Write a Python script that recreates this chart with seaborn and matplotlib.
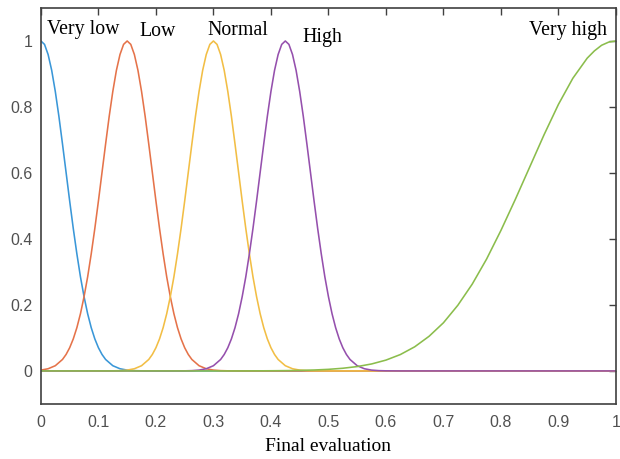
import numpy as np
import pandas as pd
import matplotlib
matplotlib.use('Agg')
import matplotlib.pyplot as plt
import seaborn as sns

# Membership values (finer steps near the peaks)
very_low_x = [0.0, 0.00625, 0.0125, 0.01875, 0.025, 0.03125, 0.0375, 0.04375,
              0.05, 0.05625, 0.0625, 0.06875, 0.075, 0.08125, 0.0875, 0.09375,
              0.1, 0.10625, 0.1125, 0.125, 0.1375, 0.15, 0.1625, 0.175, 0.2,
              1.0]
very_low_y = [1.0, 0.9897, 0.959, 0.9109, 0.847, 0.7717, 0.688, 0.6017, 0.515,
              0.4318, 0.355, 0.2851, 0.225, 0.1734, 0.131, 0.097, 0.0703,
              0.0499, 0.0347, 0.0158, 0.0066, 0.0025, 0.0009, 0.0003, 0.0, 0.0]

low_x = [0.0, 0.0125, 0.025, 0.0375, 0.04375, 0.05, 0.05625, 0.0625, 0.06875,
         0.075, 0.08125, 0.0875, 0.09375, 0.1, 0.10625, 0.1125, 0.11875, 0.125,
         0.13125, 0.1375, 0.14375, 0.15, 0.15625, 0.1625, 0.16875, 0.175,
         0.18125, 0.1875, 0.19375, 0.2, 0.20625, 0.2125, 0.21875, 0.225,
         0.23125, 0.2375, 0.24375, 0.25, 0.25625, 0.2625, 0.275, 0.2875, 0.3,
         0.3125, 0.325, 0.35, 1.0]
low_y = [0.0025, 0.0066, 0.0158, 0.0347, 0.0499, 0.0703, 0.097, 0.131, 0.1734,
         0.225, 0.2851, 0.355, 0.4318, 0.515, 0.6017, 0.688, 0.7717, 0.847,
         0.9109, 0.959, 0.9897, 1.0, 0.9897, 0.959, 0.9109, 0.847, 0.7717,
         0.688, 0.6017, 0.515, 0.4318, 0.355, 0.2851, 0.225, 0.1734, 0.131,
         0.097, 0.0703, 0.0499, 0.0347, 0.0158, 0.0066, 0.0025, 0.0009, 0.0003,
         0.0, 0.0]

normal_x = [0.0, 0.1, 0.125, 0.1375, 0.15, 0.1625, 0.175, 0.1875, 0.19375, 0.2,
            0.20625, 0.2125, 0.21875, 0.225, 0.23125, 0.2375, 0.24375, 0.25,
            0.25625, 0.2625, 0.26875, 0.275, 0.28125, 0.2875, 0.29375, 0.3,
            0.30625, 0.3125, 0.31875, 0.325, 0.33125, 0.3375, 0.34375, 0.35,
            0.35625, 0.3625, 0.36875, 0.375, 0.38125, 0.3875, 0.39375, 0.4,
            0.40625, 0.4125, 0.425, 0.4375, 0.45, 0.4625, 0.475, 0.5, 1.0]
normal_y = [0.0, 0.0, 0.0003, 0.0009, 0.0025, 0.0066, 0.0158, 0.0347, 0.0499,
            0.0703, 0.097, 0.131, 0.1734, 0.225, 0.2851, 0.355, 0.4318, 0.515,
            0.6017, 0.688, 0.7717, 0.847, 0.9109, 0.959, 0.9897, 1.0, 0.9897,
            0.959, 0.9109, 0.847, 0.7717, 0.688, 0.6017, 0.515, 0.4318, 0.355,
            0.2851, 0.225, 0.1734, 0.131, 0.097, 0.0703, 0.0499, 0.0347,
            0.0158, 0.0066, 0.0025, 0.0009, 0.0003, 0.0, 0.0]

high_x = [0.0, 0.225, 0.25, 0.2625, 0.275, 0.2875, 0.3, 0.3125, 0.31875, 0.325,
          0.33125, 0.3375, 0.34375, 0.35, 0.35625, 0.3625, 0.36875, 0.375,
          0.38125, 0.3875, 0.39375, 0.4, 0.40625, 0.4125, 0.41875, 0.425,
          0.43125, 0.4375, 0.44375, 0.45, 0.45625, 0.4625, 0.46875, 0.475,
          0.48125, 0.4875, 0.49375, 0.5, 0.50625, 0.5125, 0.51875, 0.525,
          0.53125, 0.5375, 0.55, 0.5625, 0.575, 0.5875, 0.6, 0.625, 1.0]
high_y = [0.0, 0.0, 0.0003, 0.0009, 0.0025, 0.0066, 0.0158, 0.0347, 0.0499,
          0.0703, 0.097, 0.131, 0.1734, 0.225, 0.2851, 0.355, 0.4318, 0.515,
          0.6017, 0.688, 0.7717, 0.847, 0.9109, 0.959, 0.9897, 1.0, 0.9897,
          0.959, 0.9109, 0.847, 0.7717, 0.688, 0.6017, 0.515, 0.4318, 0.355,
          0.2851, 0.225, 0.1734, 0.131, 0.097, 0.0703, 0.0499, 0.0347,
          0.0158, 0.0066, 0.0025, 0.0009, 0.0003, 0.0, 0.0]

very_high_x = [0.0, 0.35, 0.4, 0.425, 0.45, 0.475, 0.5, 0.525, 0.55, 0.575,
               0.6, 0.625, 0.65, 0.675, 0.7, 0.725, 0.75, 0.775, 0.8, 0.825,
               0.85, 0.875, 0.9, 0.925, 0.95, 0.9625, 0.975, 0.9875, 1.0]
very_high_y = [0.0, 0.0, 0.0005, 0.0009, 0.0016, 0.0028, 0.0048, 0.0081,
               0.0132, 0.0211, 0.0328, 0.0496, 0.0731, 0.105, 0.146, 0.199,
               0.263, 0.339, 0.426, 0.520, 0.618, 0.716, 0.808, 0.887, 0.948,
               0.970, 0.987, 0.9967, 1.0]

labels = ['Very low', 'Low', 'Normal', 'High', 'Very high']
label_pos = [(0.010, 1.021), (0.172, 1.015), (0.289, 1.018),
             (0.454, 0.997), (0.849, 1.018)]
colors = ['#3a97d8', '#e5734a', '#f2be45', '#9550ad', '#8bbd4c']

x_ticks = [0, 0.1, 0.2, 0.3, 0.4, 0.5, 0.6, 0.7, 0.8, 0.9, 1]
x_ticklabels = ['0', '0.1', '0.2', '0.3', '0.4', '0.5', '0.6', '0.7', '0.8',
                '0.9', '1']
y_ticks = [0, 0.2, 0.4, 0.6, 0.8, 1]
y_ticklabels = ['0', '0.2', '0.4', '0.6', '0.8', '1']

sns.set_theme(style='white')
plt.rcParams['font.family'] = ['Liberation Sans', 'DejaVu Sans']
serif = ['Liberation Serif', 'DejaVu Serif']

fig = plt.figure(figsize=(6.2, 4.59), dpi=100)
ax = fig.add_axes([0.066, 0.12, 0.9275, 0.8626])

curves = [(very_low_x, very_low_y), (low_x, low_y), (normal_x, normal_y),
          (high_x, high_y), (very_high_x, very_high_y)]
for (xs, ys), col in zip(curves, colors):
    df = pd.DataFrame({'x': xs, 'y': ys})
    sns.lineplot(data=df, x='x', y='y', color=col, linewidth=1.15, ax=ax,
                 sort=False, estimator=None)

for name, (tx, ty) in zip(labels, label_pos):
    ax.text(tx, ty, name, family=serif, fontsize=14.3, color='black',
            ha='left', va='baseline')

ax.set_xlim(0, 1)
ax.set_ylim(-0.1, 1.1)
ax.set_xticks(x_ticks)
ax.set_xticklabels(x_ticklabels)
ax.set_yticks(y_ticks)
ax.set_yticklabels(y_ticklabels)
ax.set_xlabel('Final evaluation', family=serif, fontsize=14, color='black',
              labelpad=6)
ax.set_ylabel('')

for sp in ax.spines.values():
    sp.set_visible(True)
    sp.set_color('#404040')
    sp.set_linewidth(1.2)
ax.tick_params(direction='in', length=5, width=1.0, color='#404040',
               top=True, right=True, labelsize=11.5, labelcolor='#505050')
ax.tick_params(axis='x', pad=8)
ax.tick_params(axis='y', pad=6)

fig.savefig('out.png', dpi=100)
